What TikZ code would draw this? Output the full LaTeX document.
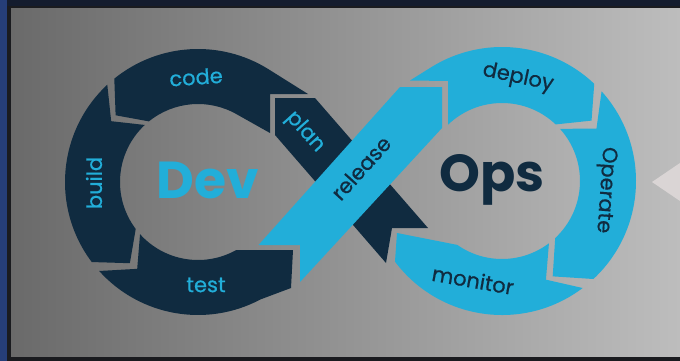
\documentclass[tikz,border=0pt]{standalone}
\usepackage{fontspec}
\setmainfont{Poppins}
\newfontfamily\lblfont{Poppins}[FakeBold=0.6]
\definecolor{navy}{RGB}{16,43,64}
\definecolor{sky}{RGB}{34,174,217}
\definecolor{framedark}{RGB}{26,27,31}
\definecolor{starblue}{RGB}{38,62,120}
\definecolor{topband}{RGB}{20,28,46}
\definecolor{tabcol}{RGB}{218,213,213}
\tikzset{
  lbl/.style={font=\lblfont\fontsize{21}{21}\selectfont, inner sep=0pt},
  big/.style={font=\fontsize{52}{52}\selectfont\bfseries, inner sep=0pt},
  darkseg/.style={fill=navy},
  lightseg/.style={fill=sky}
}
\begin{document}
\begin{tikzpicture}[x=1pt,y=1pt,yscale=-1]
\useasboundingbox (0,0) rectangle (680,361);
% frame and panel
\fill[framedark] (0,0) rectangle (680,361);
\fill[starblue] (0,0) rectangle (7,361);
\fill[topband] (7,0) rectangle (680,6);
\shade[left color={rgb,255:red,106;green,106;blue,106}, middle color={rgb,255:red,160;green,160;blue,160}, right color={rgb,255:red,189;green,189;blue,189}] (11,9) rectangle (680,356);
% side tab
\fill[tabcol] (652,182) -- (680,163) -- (680,201) -- cycle;

% plan band (under release)
\fill[darkseg] (275,98) -- (315,98) -- (428,228) -- (392,228) -- (386,263) -- (275,135) -- cycle;

% Dev ring
\begin{scope}[shift={(198,182)}]
  \fill[darkseg] (110,-88) -- (302:133) arc[start angle=302,end angle=231,radius=133]
     -- (219:106) -- (231:78) arc[start angle=231,end angle=300,radius=78]
     -- (72,-49) -- (72,-88) -- cycle;
  \fill[darkseg] (227:133) arc[start angle=227,end angle=143,radius=133]
     -- (130:106) -- (143:78) arc[start angle=143,end angle=227,radius=78]
     -- (215:106) -- cycle;
  \fill[darkseg] (138:133) arc[start angle=138,end angle=62,radius=133]
     -- (93,106) -- (95,68) -- (61:78) arc[start angle=61,end angle=138,radius=78]
     -- (125:106) -- cycle;
\end{scope}

% release band
\fill[lightseg] (258.5,245) -- (300,245) -- (300,282) -- (442,128) -- (442,87) -- (400,87) -- cycle;

% Ops ring
\begin{scope}[shift={(502,181)}]
  \fill[lightseg] (-92,-100.5) -- (238:134) arc[start angle=238,end angle=313.5,radius=134]
     -- (326:108) -- (313.5:78) arc[start angle=313.5,end angle=226.2,radius=78]
     -- (-54,-100) -- cycle;
  \fill[lightseg] (318:134) arc[start angle=318,end angle=407,radius=134]
     -- (422:108) -- (407:78) arc[start angle=407,end angle=318,radius=78]
     -- (331:108) -- cycle;
  \fill[lightseg] (53:134) arc[start angle=53,end angle=143,radius=134]
     -- (-105,52) -- (125:78) arc[start angle=125,end angle=53,radius=78]
     -- (66:108) -- cycle;
\end{scope}

% labels
\node[lbl, text=sky, rotate=4] (code) at (196,77) {code};
\node[lbl, text=sky, rotate=90] (build) at (94,183) {build};
\node[lbl, text=sky] (test) at (206,285) {test};
\node[lbl, text=sky, rotate=-48] (plan) at (305,132) {plan};
\node[lbl, text=navy, rotate=48] (release) at (361,168) {release};
\node[lbl, text=navy, rotate=-12] (deploy) at (518,78) {deploy};
\node[lbl, text=navy, rotate=-94] (operate) at (605,190) {Operate};
\node[lbl, text=navy, rotate=-10] (monitor) at (473,280) {monitor};
\node[big, text=sky] (dev) at (208,180) {Dev};
\node[big, text=navy] (ops) at (492,180) {Ops};
\end{tikzpicture}
\end{document}
